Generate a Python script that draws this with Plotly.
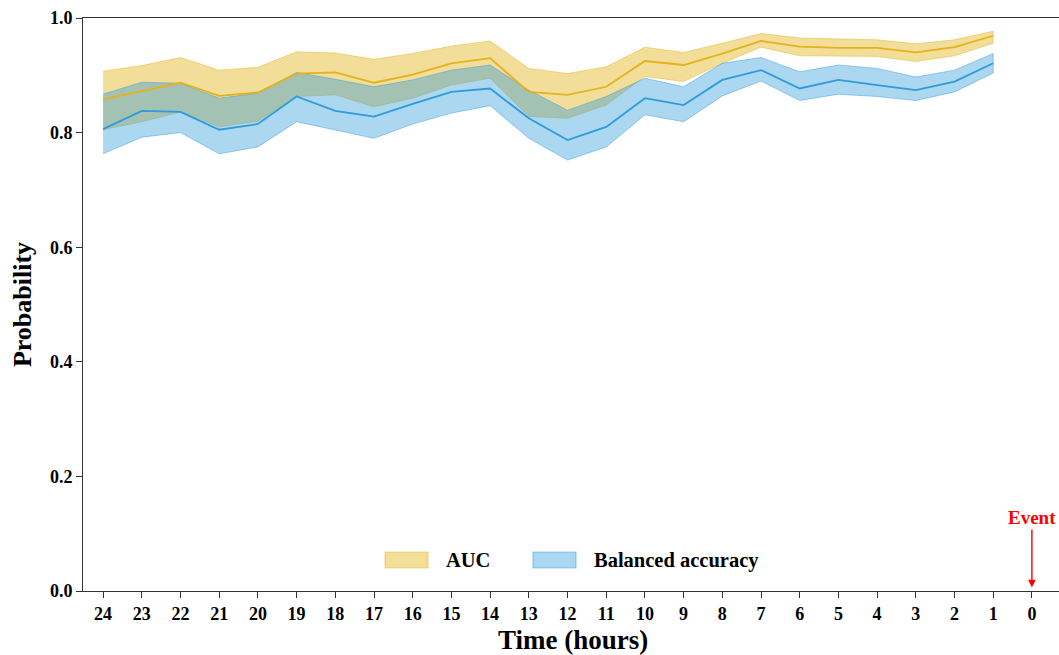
import plotly.graph_objects as go

hours = [24, 23, 22, 21, 20, 19, 18, 17, 16, 15, 14, 13, 12, 11, 10, 9, 8, 7, 6, 5, 4, 3, 2, 1]
tick_hours = list(range(24, -1, -1))

auc = [0.858, 0.873, 0.887, 0.864, 0.870, 0.903, 0.905, 0.887, 0.901, 0.921, 0.930, 0.871,
       0.866, 0.880, 0.925, 0.918, 0.938, 0.960, 0.950, 0.948, 0.948, 0.940, 0.949, 0.969]
auc_upper = [0.907, 0.917, 0.931, 0.909, 0.914, 0.941, 0.939, 0.928, 0.938, 0.951, 0.960, 0.912,
             0.903, 0.915, 0.949, 0.940, 0.956, 0.973, 0.965, 0.963, 0.962, 0.955, 0.962, 0.977]
auc_lower = [0.805, 0.819, 0.836, 0.810, 0.820, 0.863, 0.866, 0.845, 0.860, 0.883, 0.895, 0.828,
             0.825, 0.848, 0.898, 0.889, 0.921, 0.949, 0.934, 0.933, 0.933, 0.924, 0.934, 0.956]

bacc = [0.806, 0.838, 0.836, 0.805, 0.815, 0.863, 0.838, 0.828, 0.850, 0.871, 0.877, 0.825,
        0.787, 0.810, 0.860, 0.848, 0.892, 0.909, 0.877, 0.892, 0.883, 0.874, 0.889, 0.921]
bacc_upper = [0.867, 0.888, 0.886, 0.860, 0.869, 0.905, 0.893, 0.880, 0.892, 0.909, 0.918, 0.874,
              0.839, 0.863, 0.895, 0.880, 0.921, 0.931, 0.906, 0.918, 0.912, 0.897, 0.909, 0.938]
bacc_lower = [0.763, 0.792, 0.800, 0.763, 0.775, 0.819, 0.805, 0.790, 0.815, 0.834, 0.847, 0.790,
              0.752, 0.775, 0.831, 0.819, 0.864, 0.890, 0.856, 0.867, 0.863, 0.856, 0.871, 0.904]

series_names = ["AUC", "Balanced accuracy"]

FONT = "Liberation Serif"
AUC_LINE = "#E3B21C"
AUC_FILL = "rgba(227,179,28,0.45)"
AUC_EDGE = "rgba(227,179,28,0.45)"
BA_LINE = "#2E9BDA"
BA_FILL = "rgba(46,155,218,0.40)"
BA_EDGE = "rgba(46,155,218,0.45)"

W, H = 1059, 655
L, R, T, B = 83, 0, 18, 64
PW, PH = W - L - R, H - T - B


def px(xp):
    return (xp - L) / PW


def py(yp):
    return (H - B - yp) / PH


fig = go.Figure()

fig.add_trace(go.Scatter(
    x=hours + hours[::-1], y=auc_upper + auc_lower[::-1],
    fill="toself", fillcolor=AUC_FILL, mode="lines",
    line=dict(color=AUC_EDGE, width=1),
    name=series_names[0], hoverinfo="skip", showlegend=False))
fig.add_trace(go.Scatter(
    x=hours + hours[::-1], y=bacc_upper + bacc_lower[::-1],
    fill="toself", fillcolor=BA_FILL, mode="lines",
    line=dict(color=BA_EDGE, width=1),
    name=series_names[1], hoverinfo="skip", showlegend=False))
fig.add_trace(go.Scatter(x=hours, y=auc, mode="lines",
                         line=dict(color=AUC_LINE, width=1.8), showlegend=False))
fig.add_trace(go.Scatter(x=hours, y=bacc, mode="lines",
                         line=dict(color=BA_LINE, width=1.8), showlegend=False))

# Legend (drawn manually to get matplotlib-like patches)
legend_items = [(385, 428, 444, series_names[0], AUC_FILL, AUC_EDGE),
                (533, 576, 592, series_names[1], BA_FILL, BA_EDGE)]
for x0, x1, tx, label, fc, ec in legend_items:
    fig.add_shape(type="rect", xref="paper", yref="paper",
                  x0=px(x0), x1=px(x1), y0=py(568), y1=py(552),
                  fillcolor=fc, line=dict(color=ec, width=1.2))
    fig.add_annotation(x=px(tx), y=py(560), xref="paper", yref="paper",
                       text="<b>%s</b>" % label, showarrow=False,
                       xanchor="left", yanchor="middle",
                       font=dict(family=FONT, size=20.5, color="black"))

fig.add_annotation(x=0, y=0.006, xref="x", yref="y", ax=0, ay=-58,
                   text="<b>Event</b>", showarrow=True, arrowhead=2, arrowsize=1.1,
                   arrowwidth=1.4, arrowcolor="red", yanchor="bottom",
                   font=dict(family=FONT, size=19, color="red"))

fig.add_annotation(x=px(573), y=py(640), xref="paper", yref="paper",
                   text="<b>Time (hours)</b>", showarrow=False, yanchor="middle",
                   font=dict(family=FONT, size=27, color="black"))

fig.update_layout(
    width=W, height=H,
    margin=dict(l=L, r=R, t=T, b=B, autoexpand=False),
    paper_bgcolor="white", plot_bgcolor="white",
    font=dict(family=FONT, color="black"),
    showlegend=False,
    xaxis=dict(range=[24.52, -0.70], tickmode="array", tickvals=tick_hours,
               ticktext=["<b>%d</b>" % h for h in tick_hours], automargin=False,
               showline=True, linecolor="#333", linewidth=1, mirror=True,
               ticks="outside", ticklen=6, tickcolor="#333", showgrid=False,
               zeroline=False, tickfont=dict(family=FONT, size=18, color="black")),
    yaxis=dict(range=[0, 1.0], tickmode="array", tickvals=[0, 0.2, 0.4, 0.6, 0.8, 1.0],
               ticktext=["<b>%.1f</b>" % v for v in [0, 0.2, 0.4, 0.6, 0.8, 1.0]],
               automargin=False,
               showline=True, linecolor="#333", linewidth=1,
               ticks="outside", ticklen=6, tickcolor="#333", showgrid=False,
               zeroline=False, tickfont=dict(family=FONT, size=18, color="black"),
               title=dict(text="<b>Probability</b>", font=dict(family=FONT, size=26),
                          standoff=10)),
)

fig.write_html("out.html", config={"displayModeBar": False},
               post_script="document.body.style.margin='0';")
